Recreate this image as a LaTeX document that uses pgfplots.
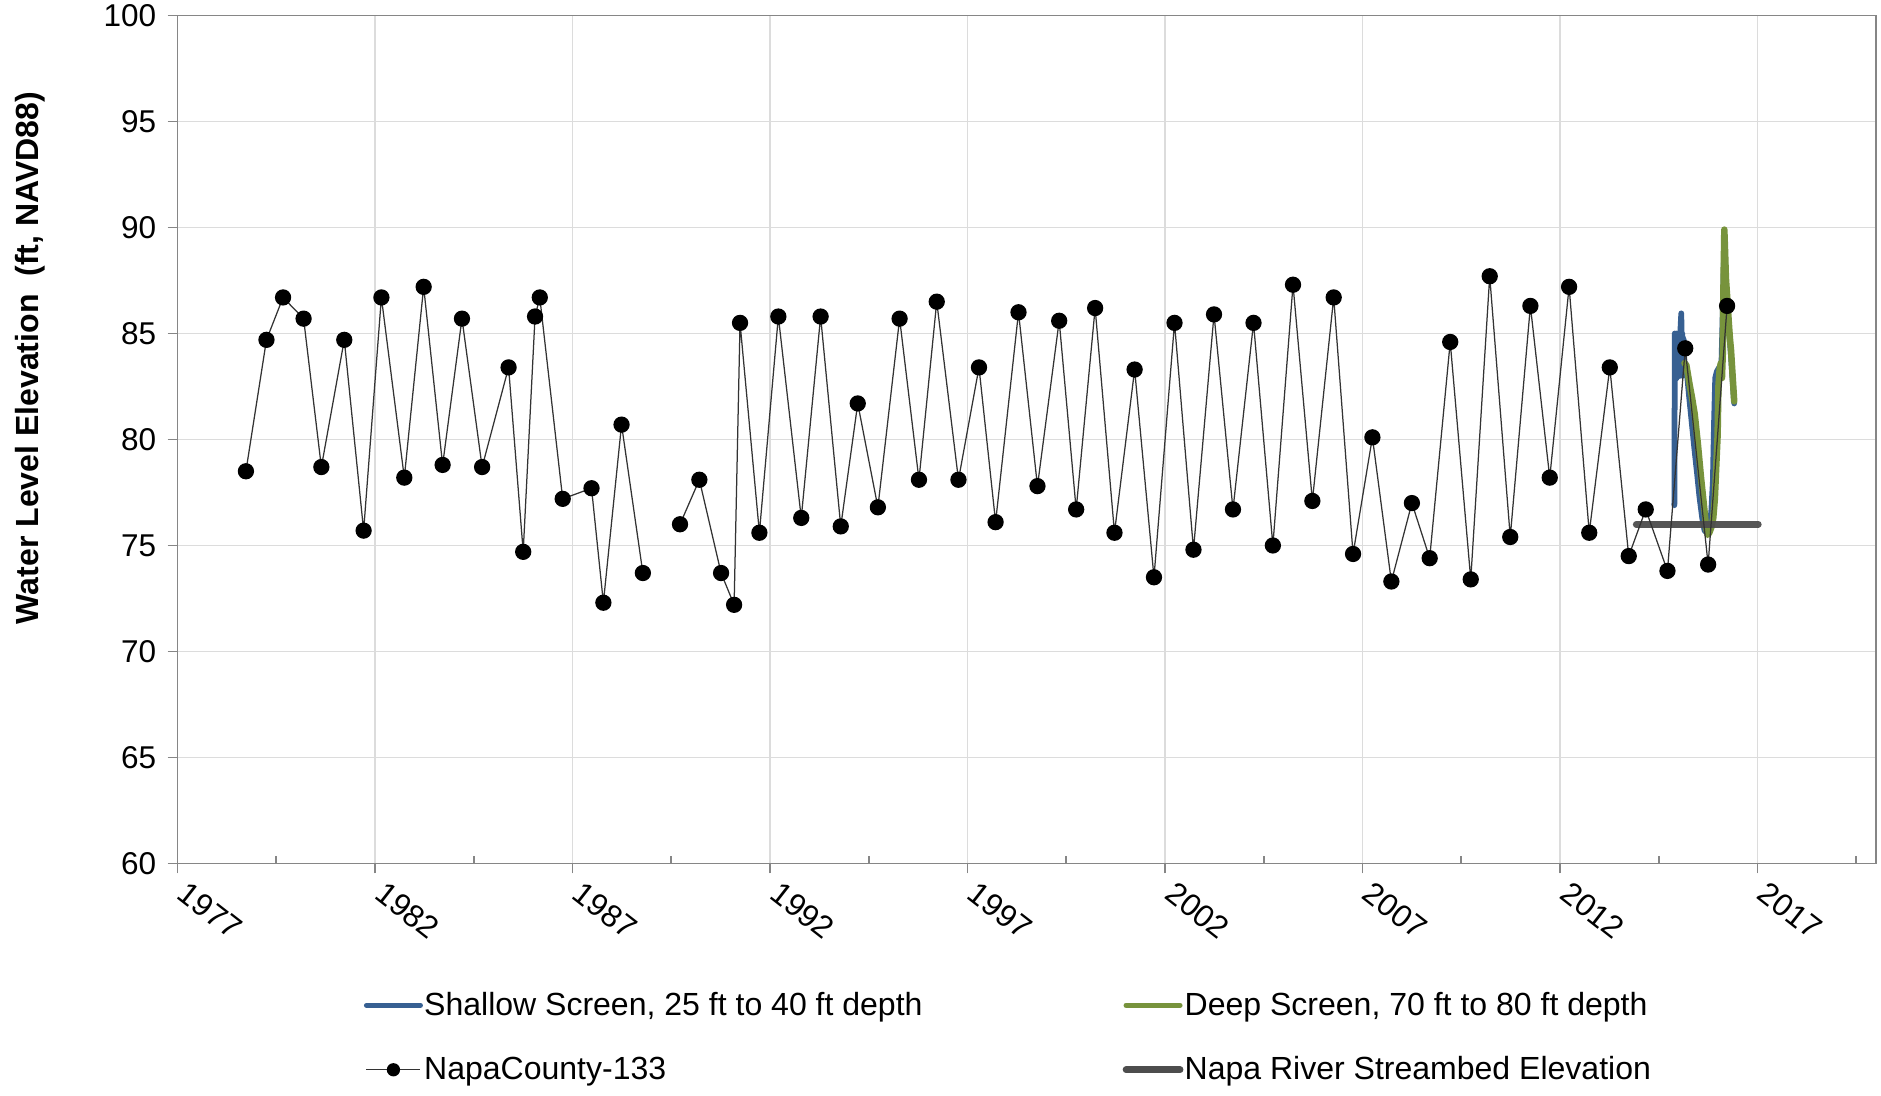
\documentclass[border=0pt]{standalone}
\usepackage{pgfplots}
\pgfplotsset{compat=1.18}
\usepackage{fontspec}
\setmainfont{Liberation Sans}
\definecolor{shallow}{RGB}{55,96,146}
\definecolor{deep}{RGB}{119,147,60}
\definecolor{bed}{RGB}{77,77,77}
\definecolor{axgray}{RGB}{134,134,134}
\definecolor{gridgray}{RGB}{220,220,220}
\pgfplotstableread{
year val
1978.73 78.5
1979.25 84.7
1979.67 86.7
1980.19 85.7
1980.64 78.7
1981.22 84.7
1981.71 75.7
1982.16 86.7
1982.74 78.2
1983.23 87.2
1983.71 78.8
1984.20 85.7
1984.71 78.7
1985.38 83.4
1985.75 74.7
1986.05 85.8
1986.17 86.7
1986.75 77.2
1987.48 77.7
1987.78 72.3
1988.24 80.7
1988.78 73.7
1989.20 nan
1989.72 76.0
1990.21 78.1
1990.76 73.7
1991.09 72.2
1991.24 85.5
1991.73 75.6
1992.21 85.8
1992.79 76.3
1993.28 85.8
1993.79 75.9
1994.22 81.7
1994.73 76.8
1995.28 85.7
1995.77 78.1
1996.22 86.5
1996.77 78.1
1997.29 83.4
1997.71 76.1
1998.29 86.0
1998.77 77.8
1999.32 85.6
1999.75 76.7
2000.23 86.2
2000.72 75.6
2001.23 83.3
2001.72 73.5
2002.24 85.5
2002.72 74.8
2003.24 85.9
2003.72 76.7
2004.24 85.5
2004.73 75.0
2005.24 87.3
2005.73 77.1
2006.27 86.7
2006.76 74.6
2007.25 80.1
2007.73 73.3
2008.25 77.0
2008.70 74.4
2009.22 84.6
2009.74 73.4
2010.22 87.7
2010.74 75.4
2011.25 86.3
2011.74 78.2
2012.23 87.2
2012.74 75.6
2013.26 83.4
2013.74 74.5
2014.17 76.7
2014.72 73.8
2015.17 84.3
2015.75 74.1
2016.23 86.3
}\napa
\pgfplotstableread{
year val
2014.895 76.9
2014.900 80.0
2014.905 85.0
2014.915 82.8
2014.925 84.9
2014.935 83.0
2014.945 85.0
2014.955 82.9
2014.965 84.8
2014.975 83.2
2014.985 85.0
2014.995 83.0
2015.005 84.9
2015.015 83.1
2015.025 85.0
2015.035 83.0
2015.050 85.2
2015.070 85.95
2015.085 84.0
2015.095 85.0
2015.105 83.0
2015.115 84.8
2015.125 83.1
2015.135 84.7
2015.150 83.5
2015.170 83.6
2015.220 83.0
2015.270 82.0
2015.330 80.9
2015.400 79.6
2015.470 78.4
2015.530 77.3
2015.600 76.3
2015.660 75.7
2015.720 75.6
2015.780 75.8
2015.830 76.6
2015.870 78.0
2015.900 80.8
2015.930 82.9
2015.970 83.2
2016.030 83.4
2016.080 83.0
2016.120 86.0
2016.160 89.3
2016.200 87.4
2016.270 85.4
2016.330 83.9
2016.410 81.7
}\shallowdata
\pgfplotstableread{
year val
2015.15 83.6
2015.20 83.5
2015.28 82.6
2015.34 82.0
2015.41 81.2
2015.49 79.8
2015.57 78.2
2015.66 76.6
2015.70 75.8
2015.74 75.5
2015.78 75.6
2015.84 75.9
2015.88 76.3
2015.92 77.2
2015.95 78.5
2015.99 80.2
2016.01 82.5
2016.04 83.3
2016.07 83.6
2016.10 82.9
2016.12 84.0
2016.14 87.5
2016.16 89.9
2016.18 88.8
2016.20 87.6
2016.24 86.5
2016.27 85.6
2016.30 84.8
2016.33 84.2
2016.37 83.0
2016.41 81.8
}\deepdata
\begin{document}
\begin{tikzpicture}
\path[use as bounding box] (-71pt,-92.6pt) rectangle (681pt,345.2pt);
\begin{axis}[
  at={(0,0)}, anchor=south west,
  scale only axis, width=679pt, height=339pt,
  xmin=1977, xmax=2020, ymin=60, ymax=100,
  xtick={1977,1982,1987,1992,1997,2002,2007,2012,2017},
  ytick={60,65,70,75,80,85,90,95,100},
  extra x ticks={1979.5,1984.5,1989.5,1994.5,1999.5,2004.5,2009.5,2014.5,2019.5},
  extra x tick labels={},
  extra x tick style={grid=none, tick align=inside, major tick length=2.8pt},
  xtick pos=bottom, ytick pos=left,
  grid=major, major grid style={gridgray, line width=0.5pt},
  axis line style={axgray, line width=0.6pt},
  x axis line style={line width=0.9pt},
  tick style={axgray, line width=0.7pt},
  tick align=outside, major tick length=4pt,
  /pgf/number format/assume math mode=true,
  /pgf/number format/1000 sep={},
  ticklabel style={font=\fontsize{12.6}{14}\selectfont},
  yticklabel style={xshift=-1pt},
  xticklabel style={xshift=4.5pt, yshift=-1pt, rotate=-38, anchor=north west, inner sep=1pt},
  ylabel={Water Level Elevation\ \ (ft, NAVD88)},
  ylabel style={at={(axis description cs:-0.087,0.596)}, anchor=center, font=\fontsize{12.8}{14}\selectfont\bfseries},
  unbounded coords=jump,
  legend image code/.code={\draw[mark repeat=2,mark phase=2,#1] plot coordinates {(0pt,0pt) (10.8pt,0pt) (21.6pt,0pt)};},
  legend style={at={(axis description cs:0.105,-0.139)}, anchor=north west, draw=none, fill=none,
    font=\fontsize{12.8}{14}\selectfont, legend columns=2,
    /tikz/every even column/.style={column sep=80pt},
    /tikz/every odd column/.style={column sep=0.5pt},
    row sep=11pt, nodes={inner xsep=0pt}},
  legend cell align=left,
]
\addlegendimage{shallow, line width=2pt, line cap=round}
\addlegendentry{Shallow Screen, 25 ft to 40 ft depth}
\addlegendimage{deep, line width=2pt, line cap=round}
\addlegendentry{Deep Screen, 70 ft to 80 ft depth}
\addlegendimage{black!80, line width=0.5pt, mark=*, mark size=2.4pt, mark options={black, fill=black}}
\addlegendentry{NapaCounty-133}
\addlegendimage{bed, line width=2.7pt, line cap=round}
\addlegendentry{Napa River Streambed Elevation}

\addplot[forget plot, shallow, line width=2.3pt, line join=round, line cap=round] table[x=year,y=val] {\shallowdata};
\addplot[forget plot, deep, line width=2.6pt, line join=round, line cap=round] table[x=year,y=val] {\deepdata};
\addplot[forget plot, bed, opacity=0.95, line width=2.7pt, line cap=round] coordinates {(2013.93,76.0) (2017.02,76.0)};
\addplot[forget plot, black!80, line width=0.5pt, mark=*, mark size=3pt, mark options={black, fill=black}] table[x=year,y=val] {\napa};
\end{axis}
\end{tikzpicture}
\end{document}
